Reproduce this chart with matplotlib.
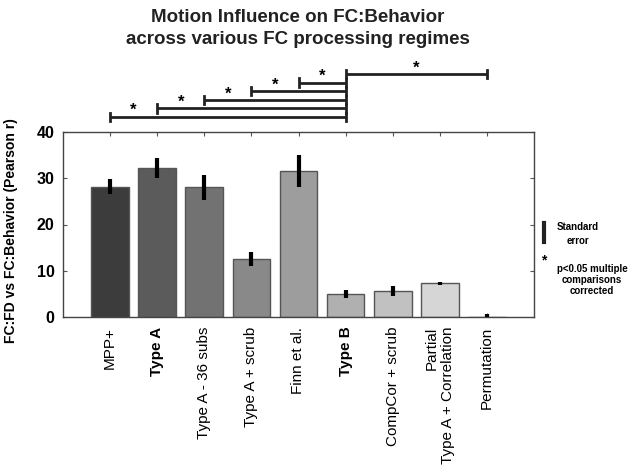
import matplotlib
matplotlib.use('Agg')
import matplotlib.pyplot as plt
from matplotlib.lines import Line2D

plt.rcParams['font.family'] = ['Liberation Sans', 'DejaVu Sans']

# data
labels = ["MPP+", "Type A", "Type A - 36 subs", "Type A + scrub", "Finn et al.",
          "Type B", "CompCor + scrub", "Partial\nType A + Correlation", "Permutation"]
values = [28.2, 32.2, 28.0, 12.5, 31.6, 5.0, 5.6, 7.3, 0.0]
err_low = [1.6, 2.1, 2.6, 1.5, 3.4, 0.9, 1.0, 0.3, 0.0]
err_high = [1.6, 2.1, 2.6, 1.5, 3.4, 0.9, 1.0, 0.3, 0.6]
bar_colors = ["#3c3c3c", "#5b5b5b", "#727272", "#898989", "#9d9d9d",
              "#b0b0b0", "#c1c1c1", "#d6d6d6", "#ffffff"]
bold_labels = ["Type A", "Type B"]

# significance brackets: (start bar, end bar, height, star x)
brackets = [(1, 6, 43.3, 1.5), (2, 6, 45.1, 2.5), (3, 6, 46.9, 3.5),
            (4, 6, 48.8, 4.5), (5, 6, 50.7, 5.5), (6, 9, 52.5, 7.5)]

fig = plt.figure(figsize=(6.37, 4.75), dpi=100)
ax = fig.add_axes([63 / 637, 1 - 317 / 475, 471 / 637, 185 / 475])

x = list(range(1, len(values) + 1))
ax.bar(x, values, width=0.8, color=bar_colors, edgecolor="#555555", linewidth=1.0, zorder=2)
ax.errorbar(x, values, yerr=[err_low, err_high], fmt="none", ecolor="black",
            elinewidth=3, capsize=0, zorder=3)

ax.set_xlim(0, 10)
ax.set_ylim(0, 40)
ax.set_yticks([0, 10, 20, 30, 40])
ax.set_xticks(x)
ax.set_xticklabels(labels, rotation=90, fontsize=11, multialignment="right")
for t in ax.get_xticklabels():
    if t.get_text() in bold_labels:
        t.set_fontweight("bold")
for t in ax.get_yticklabels():
    t.set_fontweight("bold")
    t.set_fontsize(11.5)

ax.tick_params(direction="in", top=True, right=True, length=3, width=0.8, color="#555555")
ax.tick_params(axis="x", pad=7)
ax.tick_params(axis="y", pad=6)
for s in ax.spines.values():
    s.set_color("#444444")
    s.set_linewidth(1.0)

ax.set_ylabel("FC:FD vs FC:Behavior (Pearson r)", fontsize=10, fontweight="bold")
ax.yaxis.set_label_coords(-0.096, 0.465)

fig.text(298 / 637, 1 - 17 / 475, "Motion Influence on FC:Behavior", ha="center", va="center",
         fontsize=13.5, fontweight="bold", color="#222222")
fig.text(298 / 637, 1 - 39 / 475, "across various FC processing regimes", ha="center",
         va="center", fontsize=13.5, fontweight="bold", color="#222222")

# significance brackets above the axes
for a, b, h, sx in brackets:
    ax.plot([a, b], [h, h], color="#222222", lw=2, clip_on=False, solid_capstyle="butt")
    for e in (a, b):
        ax.plot([e, e], [h - 0.9, h + 0.9], color="#222222", lw=2, clip_on=False)
    ax.text(sx, h + 1.3, "*", ha="center", va="center", fontsize=12,
            fontweight="bold", clip_on=False)

# legend text on the right
fig.add_artist(Line2D([544 / 637, 544 / 637], [1 - 223 / 475, 1 - 242 / 475],
                      color="#222222", lw=3))
fig.text(578 / 637, 1 - 227 / 475, "Standard", ha="center", va="center",
         fontsize=7, fontweight="bold")
fig.text(578 / 637, 1 - 241 / 475, "error", ha="center", va="center",
         fontsize=7, fontweight="bold")
fig.text(544 / 637, 1 - 260 / 475, "*", ha="center", va="center",
         fontsize=10, fontweight="bold")
fig.text(592 / 637, 1 - 280 / 475, "p<0.05 multiple\ncomparisons\ncorrected", ha="center",
         va="center", fontsize=7, fontweight="bold", linespacing=1.15)

fig.savefig("out.png", dpi=100)
